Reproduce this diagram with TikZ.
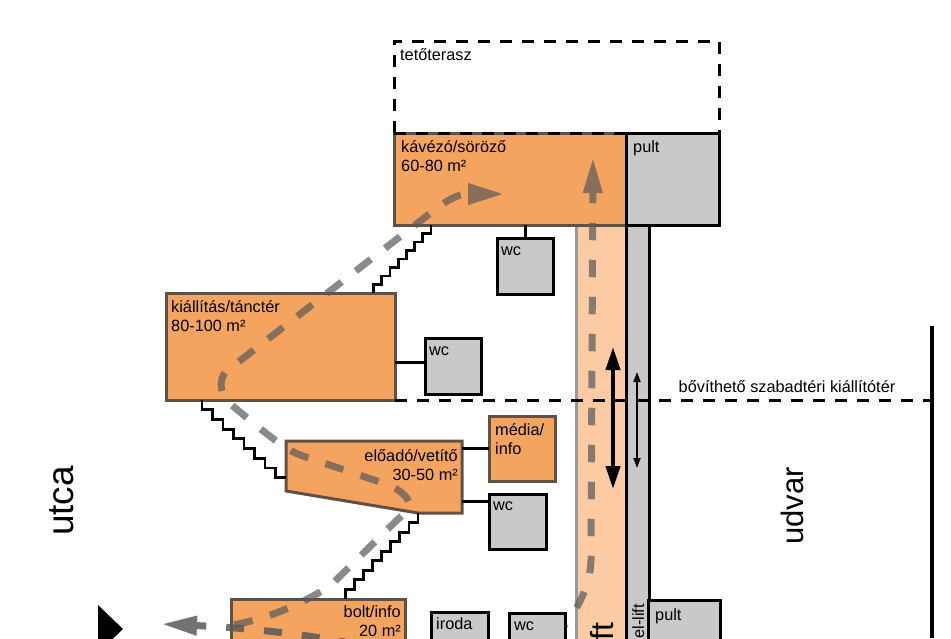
\documentclass[tikz,border=0pt]{standalone}
\usepackage{fontspec}
\setmainfont{Liberation Sans}
\usepackage{xcolor}
\usetikzlibrary{arrows.meta,positioning,calc}
\definecolor{roomorange}{HTML}{F5A460}
\definecolor{liftpeach}{HTML}{FCCBA3}
\definecolor{roomgray}{HTML}{C9C9C9}
\definecolor{roomedge}{HTML}{5E5146}
\definecolor{flowgray}{gray}{0.35}

\begin{document}
\begin{tikzpicture}[
    x=1pt, y=-1pt,
    font=\fontsize{16.3}{19.5}\selectfont,
    room/.style={draw=roomedge, fill=roomorange, line width=3pt, inner sep=0pt, outer sep=0pt, anchor=north west},
    service/.style={draw=black, fill=roomgray, line width=3pt, inner sep=0pt, outer sep=0pt, anchor=north west},
    roomlabel/.style={inner sep=0pt, align=left},
    bigtext/.style={font=\fontsize{31}{31}\selectfont, rotate=90, inner sep=0pt},
    link/.style={draw=black, line width=3pt},
    stairs/.style={draw=black, line width=2.8pt},
    boundary/.style={draw=black, line width=3pt, dash pattern=on 12pt off 10pt},
    flowline/.style={draw=flowgray, line width=7pt},
]
    \path[use as bounding box, clip] (0,0) rectangle (951,638);

    % Lift shafts, running down past the lower edge
    \node[service, draw=none, fill=liftpeach, minimum width=50pt, minimum height=460pt] (lift) at (576,225) {};
    \draw[draw=black!40, line width=3pt] (lift.north west) -- (lift.south west);
    \node[service, minimum width=23pt, minimum height=460pt] (ellift) at (626,225) {};

    % Rooms
    \node[room, minimum width=232pt, minimum height=92pt] (kavezo) at (394,133) {};
    \node[service, minimum width=93pt, minimum height=92pt] (pult) at (626,133) {};
    \node[room, minimum width=229pt, minimum height=107pt] (kiallitas) at (166,293) {};
    \draw[draw=roomedge, fill=roomorange, line width=3pt] (286,441) -- (462,441) -- (462,513) -- (418,513) -- (286,491) -- cycle;
    \coordinate (eloado) at (462,441);
    \node[room, minimum width=66pt, minimum height=65pt] (media) at (489,416) {};
    \node[room, minimum width=174pt, minimum height=80pt] (bolt) at (231,599) {};

    % Small boxes and what ties them to the rooms
    \node[service, minimum width=56pt, minimum height=56pt] (wcfelso) at (497,238) {};
    \node[service, minimum width=56pt, minimum height=56pt] (wckozep) at (425,338) {};
    \node[service, minimum width=57pt, minimum height=55pt] (wcalso) at (489,494) {};
    \node[service, minimum width=72pt, minimum height=80pt] (pultalso) at (648,600) {};
    \draw[link] (wcfelso.north) -- (wcfelso.north |- kavezo.south);
    \draw[link] ([yshift=4pt]wckozep.west) -- ([yshift=4pt]wckozep.west -| kiallitas.east);
    \draw[link] (media.west) -- (media.west -| eloado);
    \draw[link] ([yshift=-7pt]wcalso.north west) -- ([yshift=-7pt]wcalso.north west -| eloado);

    % Stairs
    \draw[stairs] (431,225) \foreach \i in {1,...,7} { -- ++(0,8.5) -- ++(-8.2,0) } -- ++(0,8.5);
    \draw[stairs] (202,400) \foreach \i in {1,...,8} { -- ++(0,9.7) -- ++(10.5,0) };
    \draw[stairs] (418,513) \foreach \i in {1,...,8} { -- ++(0,9.55) -- ++(-9.1,0) } -- ++(0,9.55);

    % Walking routes
    \begin{scope}[transparency group, opacity=0.7]
        \draw[flowline, dash pattern=on 19pt off 18pt, dash phase=28pt, {Triangle[length=36pt,width=20pt]}-] (504,194) .. controls (455,194) and (445,202) .. (428,215) -- (237,363) .. controls (218,372) and (215,392) .. (234,407) .. controls (270,437) and (285,449) .. (300,455) -- (380,482) .. controls (400,488) and (414,500) .. (408,510) -- (395,522) -- (330,586) .. controls (300,605) and (265,620) .. (227,626);
        \draw[flowline, dash pattern=on 17.5pt off 19.5pt, dash phase=5.5pt, {Triangle[length=36pt,width=18pt]}-] (593,157) -- (591,560) .. controls (590,600) and (560,635) .. (535,655);
    \end{scope}
    \begin{scope}[transparency group, opacity=0.85]
        \draw[flowline, dash pattern=on 18pt off 20pt, dash phase=7pt, {Triangle[length=36pt,width=18pt]}-] (161,624) .. controls (250,628) and (300,634) .. (345,642);
    \end{scope}

    % Boxes lying over the routes
    \node[service, minimum width=57pt, minimum height=60pt] (iroda) at (431,612) {};
    \node[service, minimum width=56pt, minimum height=60pt] (wcutca) at (509,613) {};

    % Lift directions
    \draw[black, line width=4pt, {Triangle[length=23pt,width=14pt]}-{Triangle[length=23pt,width=14pt]}] (613,347) -- (613,489);
    \draw[black, line width=2pt, {Triangle[length=10pt,width=7pt]}-{Triangle[length=10pt,width=7pt]}] (637,372) -- (637,468);

    % Dashed limits and the yard wall
    \draw[boundary] (394,133) -- (394,41) -- (719,41) -- (719,133);
    \draw[boundary] (394,133) -- (626,133);
    \draw[boundary] (395,400) -- (932,400);
    \draw[black, line width=4.5pt] (932,326) -- (932,638);
    \fill[black] (98,605) -- (123,629) -- (98,653) -- cycle;

    % Labels
    \node[roomlabel, below right=7pt and 6pt of {$(394,41)$}] (terasz) {tetőterasz};
    \node[roomlabel, below right=7pt and 7pt of kavezo.north west] (kavezotext) {kávézó/söröző\\60-80 m²};
    \node[roomlabel, below right=7pt and 7pt of pult.north west] (pulttext) {pult};
    \node[roomlabel, below right=7pt and 5pt of kiallitas.north west] (kiallitastext) {kiállítás/tánctér\\80-100 m²};
    \node[roomlabel, align=right, anchor=north east] (eloadotext) at (458,449) {előadó/vetítő\\30-50 m²};
    \node[roomlabel, below right=7pt and 6pt of media.north west] (mediatext) {média/\\info};
    \node[roomlabel, align=right, anchor=north east] (bolttext) at (401,605) {bolt/info\\20 m²};
    \node[roomlabel, below right=9pt and 4pt of wcfelso.north west] (wcfelsotext) {wc};
    \node[roomlabel, below right=9pt and 4pt of wckozep.north west] (wckozeptext) {wc};
    \node[roomlabel, below right=8pt and 4pt of wcalso.north west] (wcalsotext) {wc};
    \node[roomlabel, below right=5pt and 5pt of iroda.north west] (irodatext) {iroda};
    \node[roomlabel, below right=9pt and 5pt of wcutca.north west] (wcutcatext) {wc};
    \node[roomlabel, below right=8pt and 7pt of pultalso.north west] (pultalsotext) {pult};
    \node[roomlabel, anchor=south] (bovitheto) at (787,393) {bővíthető szabadtéri kiállítótér};
    \node[bigtext, font=\fontsize{37}{37}\selectfont, anchor=base] (utca) at (73,501) {utca};
    \node[bigtext, anchor=base] (udvar) at (803,506) {udvar};
    \node[bigtext, font=\fontsize{32}{32}\selectfont, anchor=base east] (lifttext) at (613,622) {lift};
    \node[roomlabel, rotate=90, anchor=base east] (elliftttext) at (644,604) {el-lift};
\end{tikzpicture}
\end{document}
